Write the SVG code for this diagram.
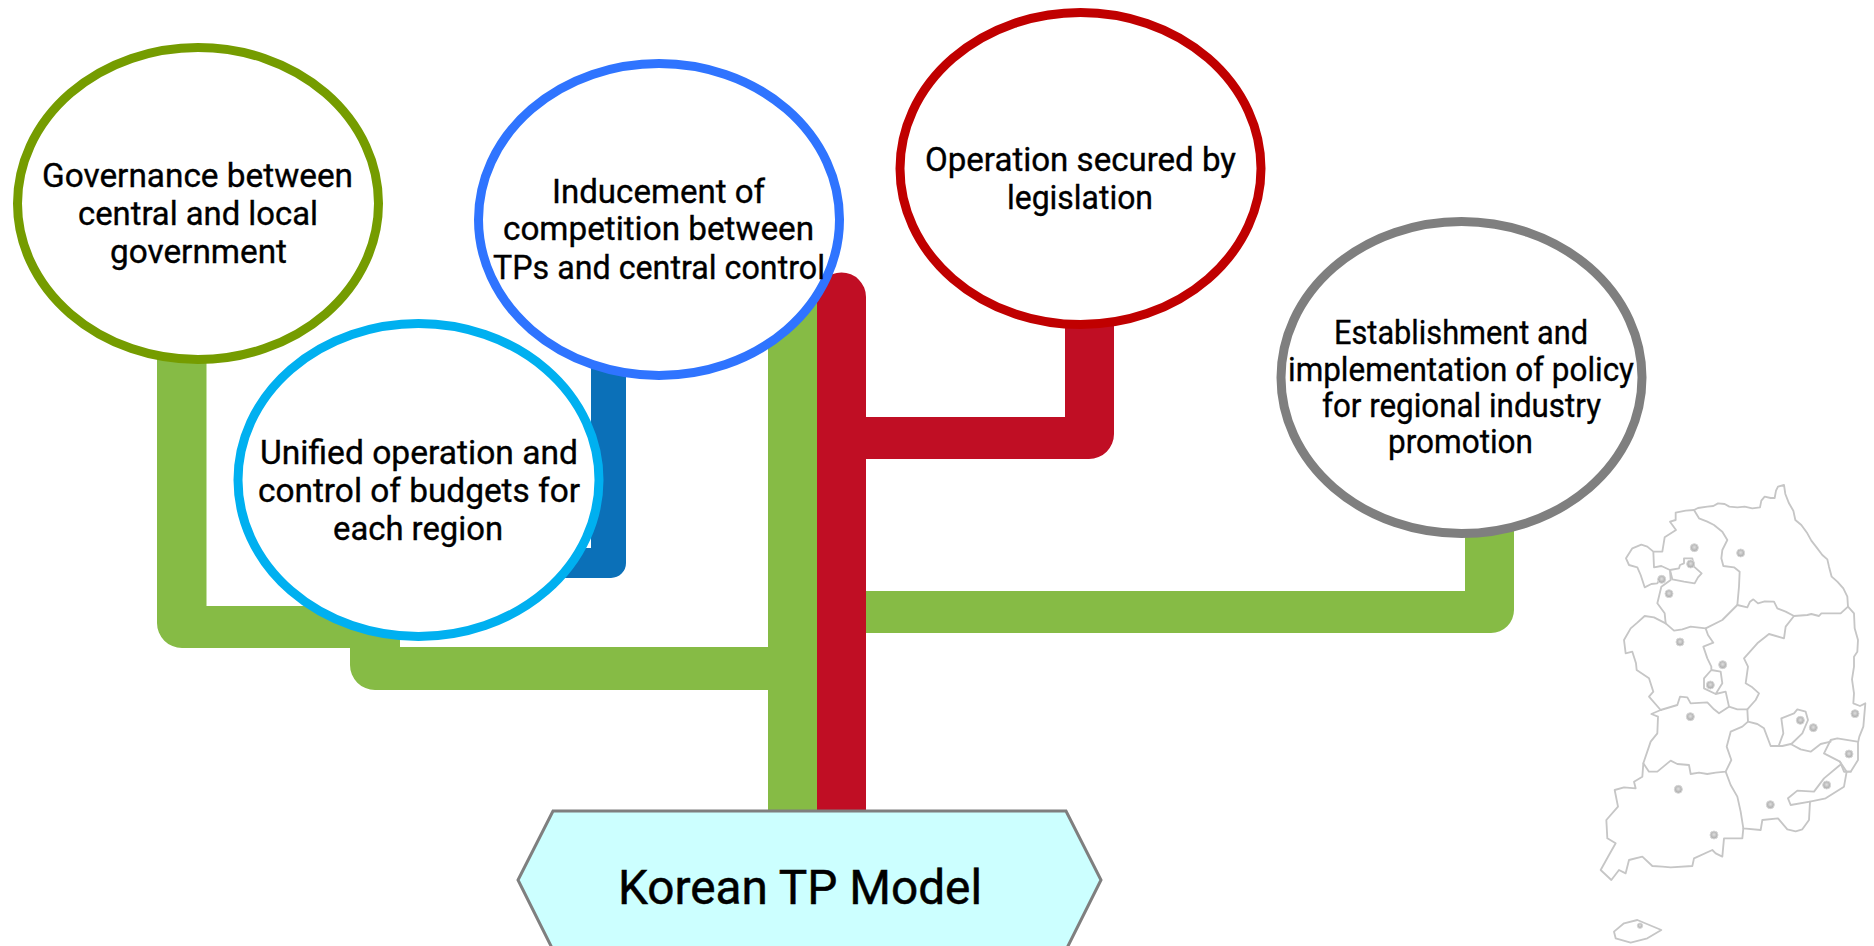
<svg xmlns="http://www.w3.org/2000/svg" width="1874" height="946" viewBox="0 0 1874 946">
<style>
text{font-family:"Roboto","Noto Sans","Liberation Sans",sans-serif;font-size:32.500px;fill:#000;stroke:#000;stroke-width:.35}
.n{fill:#fff;stroke-width:9}
.g{fill:#86bb45}.r{fill:#c00e24}.b{fill:#0b70b8}
.m{fill:none;stroke:#c6c6c6;stroke-width:5.500;stroke-linejoin:round;stroke-linecap:round}
.d{fill:url(#dot);stroke:#d8d8d8;stroke-width:3}
</style>
<defs>
<radialGradient id="dot" cx=".5" cy=".45" r=".55"><stop offset="0" stop-color="#dedede"/><stop offset=".7" stop-color="#b5b5b5"/><stop offset="1" stop-color="#a8a8a8"/></radialGradient>
<filter id="soft" x="-5%" y="-5%" width="110%" height="110%"><feGaussianBlur stdDeviation="1.200"/></filter>
</defs>
<rect width="1874" height="946" fill="#fff"/>
<g id="connectors">
<path class="g" d="M157 340H206.500V606H400V647H768V280H817V810H768V690H375A25 25 0 0 1 350 665V648H182A25 25 0 0 1 157 623Z"/>
<path class="g" d="M866 591H1465V520H1514V610A23 23 0 0 1 1491 633H866Z"/>
<path class="b" d="M591 350H626V563A15 15 0 0 1 611 578H540V548H591Z"/>
<path class="r" d="M817 297A24.500 24.500 0 0 1 866 297V417H1065V310H1114V434A25 25 0 0 1 1089 459H866V810H817Z"/>
</g>
<g id="region-map" transform="translate(1574 470) scale(.33333)">
<g filter="url(#soft)">
<path class="m" d="M360 120L372 114L400 110L418 108L432 100L452 102L466 110L490 112L512 110L535 115L558 112L562 92L572 80L590 84L602 84L606 62L612 50L630 45L634 72L645 100L658 122L664 150L682 165L700 190L712 212L730 235L745 255L760 268L765 290L773 320L790 335L808 355L820 380L822 410L840 430L842 475L852 510L850 545L840 560L840 590L834 628L840 670L838 700L858 708L874 700L868 770L856 800L852 818L852 870L830 905L812 905"/>
<path class="m" d="M360 120L375 145L400 155L420 165L445 185L460 210L445 240L442 265L448 288L480 292L497 305L495 350L490 405L520 412L528 395L538 388L552 400L572 394L600 395L610 415L635 425L660 438L700 435L712 432L735 438L742 430L800 430L822 410"/>
<path class="m" d="M360 120L335 122L305 128L305 150L288 155L306 180L272 202L265 245L238 245L220 230L202 224L175 235L156 265L165 285L190 292L200 315L212 352L232 342L250 340L262 320M238 245L240 292L262 288L288 300L290 330L262 350L250 400L272 430L275 460"/>
<path class="m" d="M288 300L315 295L318 285L330 280L330 265L355 265L360 290L383 310L372 322L362 340L330 335L295 328Z"/>
<path class="m" d="M275 460L300 482L325 478L350 470L395 475L445 450L490 405"/>
<path class="m" d="M275 460L240 442L212 438L190 458L170 475L150 510L155 550L175 545L186 580L188 600L225 625L238 665L225 680L260 720"/>
<path class="m" d="M395 475L402 495L418 518L388 530L400 565L412 590L412 600L390 625L390 655L425 672L445 640L440 605L412 600M425 672L455 665L465 710"/>
<path class="m" d="M260 720L310 705L318 680L340 682L350 700L400 697L420 718L435 730L465 710L490 718L520 718L545 690L555 670L535 652L515 640L522 590L510 565L550 520L585 492L630 505L635 470L660 438"/>
<path class="m" d="M520 718L522 755L505 770L470 785L458 830L472 870L455 905L425 908L400 912L375 908L350 912L345 885L310 882L290 872L250 905L225 905L208 880L230 815L250 790L252 740L232 732L260 720"/>
<path class="m" d="M208 880L205 920L180 935L185 955L150 952L122 960L132 1010L97 1050L100 1105L125 1120L105 1155L80 1200L112 1230L135 1200L155 1210L165 1170L205 1160L235 1188L265 1190L290 1192L355 1188L360 1165L415 1140L425 1150L445 1160L450 1105L505 1105L508 1075"/>
<path class="m" d="M455 905L470 945L490 980L500 1025L508 1075L560 1080L565 1050L612 1045L640 1078L665 1084L685 1078L705 1050L708 995L755 985L810 950L818 905L798 875L750 850L770 810L790 805L850 815"/>
<path class="m" d="M522 755L550 762L570 775L590 828L625 828L650 822L680 838L710 845L740 822L770 815M615 825L628 790L622 745L660 730L670 718L695 725L702 750L685 790L652 822M798 885L750 925L720 965L670 962L642 985L650 1005L708 995M798 875L810 905L830 905"/>
<path class="m" d="M120 1385L150 1360L190 1350L262 1380L220 1405L170 1418L125 1405Z"/>
</g>
<circle class="d" cx="361" cy="233" r="12"/><circle class="d" cx="350" cy="282" r="12"/><circle class="d" cx="263" cy="328" r="12"/><circle class="d" cx="285" cy="371" r="12"/><circle class="d" cx="500" cy="249" r="12"/><circle class="d" cx="318" cy="516" r="12"/><circle class="d" cx="446" cy="584" r="12"/><circle class="d" cx="409" cy="645" r="12"/><circle class="d" cx="349" cy="740" r="12"/><circle class="d" cx="679" cy="751" r="12"/><circle class="d" cx="718" cy="773" r="12"/><circle class="d" cx="843" cy="731" r="12"/><circle class="d" cx="825" cy="852" r="12"/><circle class="d" cx="758" cy="945" r="12"/><circle class="d" cx="589" cy="1004" r="12"/><circle class="d" cx="313" cy="958" r="12"/><circle class="d" cx="420" cy="1095" r="12"/><circle class="d" cx="198" cy="1367" r="8"/>
</g>
<g id="node-governance">
<ellipse class="n" cx="198" cy="203.500" rx="180.500" ry="156" stroke="#759c00"/>
<text x="42" y="187" textLength="311" lengthAdjust="spacingAndGlyphs">Governance between</text>
<text x="78" y="225" textLength="240" lengthAdjust="spacingAndGlyphs">central and local</text>
<text x="110" y="263" textLength="177" lengthAdjust="spacingAndGlyphs">government</text>
</g>
<g id="node-budgets">
<ellipse class="n" cx="418.500" cy="480" rx="180.500" ry="156.500" stroke="#00b0f0"/>
<text x="260" y="464" textLength="318" lengthAdjust="spacingAndGlyphs">Unified operation and</text>
<text x="258" y="502" textLength="322" lengthAdjust="spacingAndGlyphs">control of budgets for</text>
<text x="333" y="540" textLength="170" lengthAdjust="spacingAndGlyphs">each region</text>
</g>
<g id="node-competition">
<ellipse class="n" cx="659" cy="219.500" rx="180.500" ry="156" stroke="#2f74ff"/>
<text x="552" y="203" textLength="213" lengthAdjust="spacingAndGlyphs">Inducement of</text>
<text x="503" y="240" textLength="311" lengthAdjust="spacingAndGlyphs">competition between</text>
<text x="493" y="279" textLength="332" lengthAdjust="spacingAndGlyphs">TPs and central control</text>
</g>
<g id="node-legislation">
<ellipse class="n" cx="1080.500" cy="168.500" rx="180.500" ry="156" stroke="#c00000"/>
<text x="925" y="171" textLength="311" lengthAdjust="spacingAndGlyphs">Operation secured by</text>
<text x="1007" y="209" textLength="146" lengthAdjust="spacingAndGlyphs">legislation</text>
</g>
<g id="node-policy">
<ellipse class="n" cx="1461.500" cy="377.500" rx="180.500" ry="156" stroke="#7f7f7f"/>
<text x="1334" y="344" textLength="254" lengthAdjust="spacingAndGlyphs">Establishment and</text>
<text x="1288" y="381" textLength="346" lengthAdjust="spacingAndGlyphs">implementation of policy</text>
<text x="1322" y="417" textLength="279" lengthAdjust="spacingAndGlyphs">for regional industry</text>
<text x="1388" y="453" textLength="145" lengthAdjust="spacingAndGlyphs">promotion</text>
</g>
<g id="node-model">
<polygon points="553,811 1066,811 1101,880 1066,950 553,950 518,880" fill="#ccffff" stroke="#7f7f7f" stroke-width="3"/>
<text x="618" y="904" textLength="364" lengthAdjust="spacingAndGlyphs" style="font-size:48px;stroke-width:.5">Korean TP Model</text>
</g>
</svg>
